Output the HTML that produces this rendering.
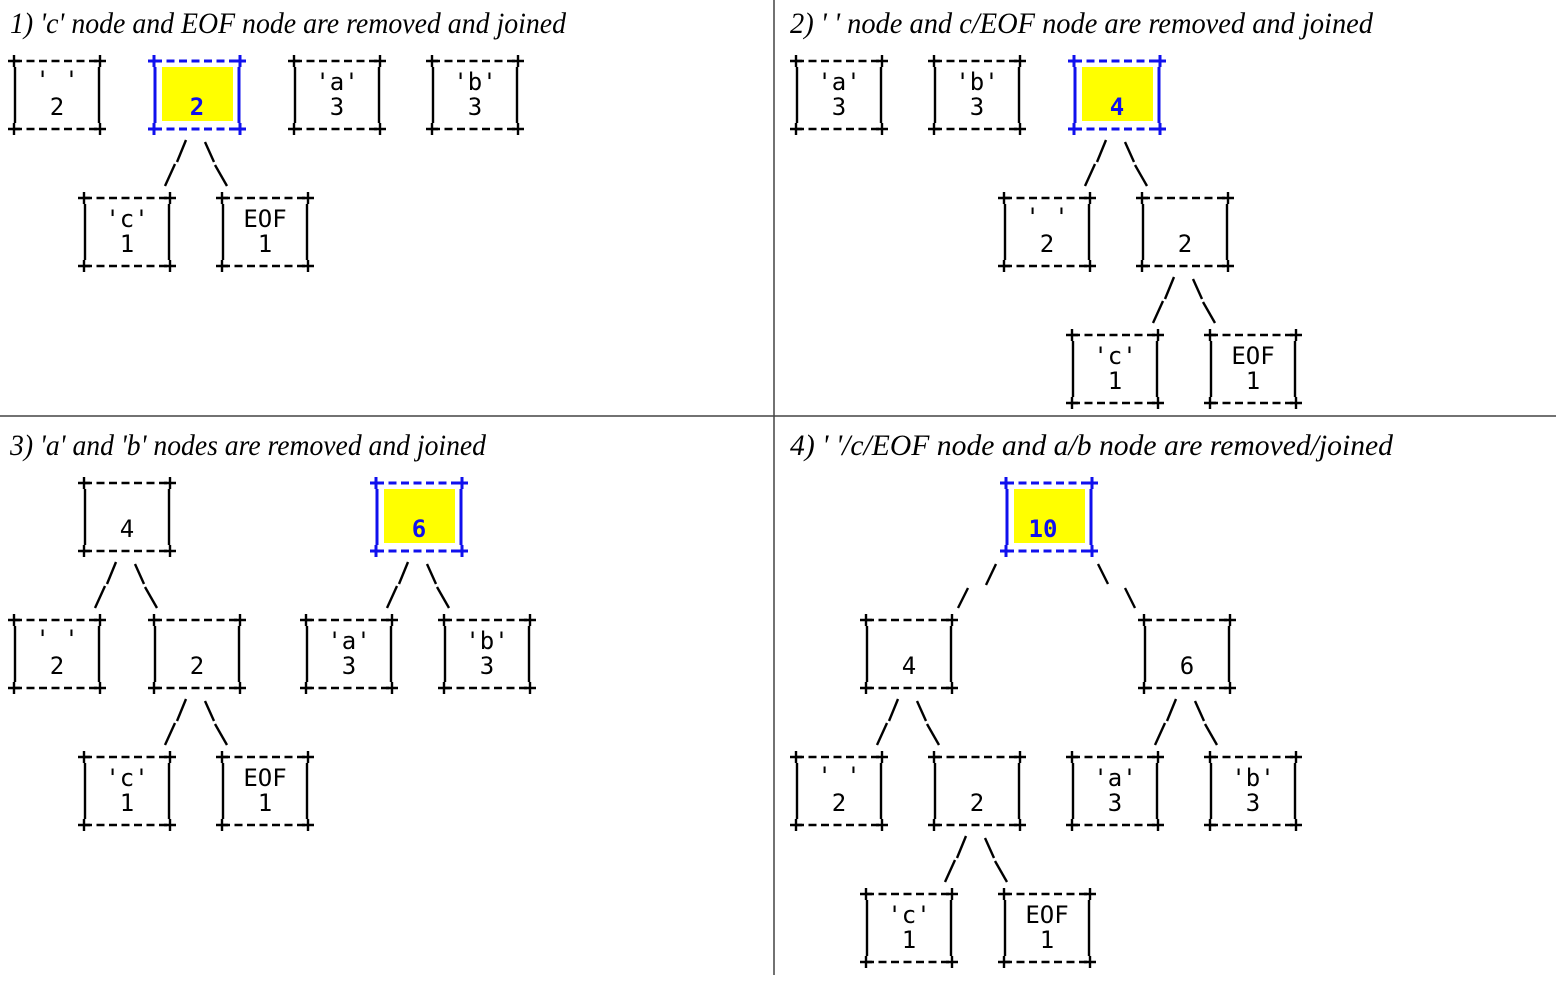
<!DOCTYPE html>
<html><head><meta charset="utf-8"><style>
html,body{margin:0;padding:0;background:#fff;}
svg{display:block}
.t{font-family:"Liberation Serif",serif;font-style:italic;font-size:30px;fill:#000}
.m{font-family:"DejaVu Sans Mono","Liberation Mono",monospace;font-size:24px;fill:#000;text-anchor:middle}
.h{font-family:"DejaVu Sans Mono","Liberation Mono",monospace;font-size:24px;font-weight:bold;fill:#1010ee;text-anchor:middle}
</style></head><body>
<svg width="1564" height="992" viewBox="0 0 1564 992" xmlns="http://www.w3.org/2000/svg">
<defs>
<g id="box" stroke="#000" stroke-width="2.4" fill="none">
 <line x1="4" y1="2" x2="90" y2="2" stroke-dasharray="8,4.5"/>
 <line x1="4" y1="70" x2="90" y2="70" stroke-dasharray="8,4.5"/>
 <line x1="5" y1="8" x2="5" y2="64"/>
 <line x1="89" y1="8" x2="89" y2="64"/>
 <path d="M-2 2H10M4 -4V8M84 2H96M90 -4V8M-2 70H10M4 64V76M84 70H96M90 64V76"/>
</g>
<g id="hbox">
 <rect x="12" y="8" width="71" height="54" fill="#ffff00"/>
 <g stroke="#1010ee" stroke-width="3" fill="none">
 <line x1="4" y1="2" x2="90" y2="2" stroke-dasharray="8,4.5"/>
 <line x1="4" y1="70" x2="90" y2="70" stroke-dasharray="8,4.5"/>
 <line x1="5" y1="8" x2="5" y2="64"/>
 <line x1="89" y1="8" x2="89" y2="64"/>
 <path d="M-2 2H10M4 -4V8M84 2H96M90 -4V8M-2 70H10M4 64V76M84 70H96M90 64V76"/>
 </g>
</g>
<g id="br" stroke="#000" stroke-width="2.4">
 <line x1="36" y1="81" x2="27" y2="103"/>
 <line x1="25" y1="105" x2="15" y2="127"/>
 <line x1="55" y1="83" x2="64" y2="103"/>
 <line x1="65" y1="106" x2="77" y2="127"/>
</g>
<g id="wbr" stroke="#000" stroke-width="2.4">
 <line x1="-6" y1="83" x2="-16" y2="104"/>
 <line x1="-34" y1="107" x2="-44" y2="127"/>
 <line x1="96" y1="83" x2="106" y2="103"/>
 <line x1="123" y1="107" x2="133" y2="127"/>
</g>
</defs>

<line x1="774" y1="0" x2="774" y2="975" stroke="#444" stroke-width="1.5"/>
<line x1="0" y1="416" x2="1556" y2="416" stroke="#444" stroke-width="1.5"/>

<text class="t" x="10" y="33" textLength="556" lengthAdjust="spacingAndGlyphs">1) 'c' node and EOF node are removed and joined</text>
<text class="t" x="790" y="33" textLength="583" lengthAdjust="spacingAndGlyphs">2) ' ' node and c/EOF node are removed and joined</text>
<text class="t" x="10" y="455" textLength="476" lengthAdjust="spacingAndGlyphs">3) 'a' and 'b' nodes are removed and joined</text>
<text class="t" x="790" y="455" textLength="603" lengthAdjust="spacingAndGlyphs">4) ' '/c/EOF node and a/b node are removed/joined</text>

<!-- Panel 1 -->
<g transform="translate(10,59)"><use href="#box"/><text class="m" x="47" y="29">' '</text><text class="m" x="47" y="56">2</text></g>
<g transform="translate(150,59)"><use href="#hbox"/><text class="h" x="47" y="56">2</text><use href="#br"/></g>
<g transform="translate(290,59)"><use href="#box"/><text class="m" x="47" y="31">'a'</text><text class="m" x="47" y="56">3</text></g>
<g transform="translate(428,59)"><use href="#box"/><text class="m" x="47" y="31">'b'</text><text class="m" x="47" y="56">3</text></g>
<g transform="translate(80,196)"><use href="#box"/><text class="m" x="47" y="31">'c'</text><text class="m" x="47" y="56">1</text></g>
<g transform="translate(218,196)"><use href="#box"/><text class="m" x="47" y="31">EOF</text><text class="m" x="47" y="56">1</text></g>

<!-- Panel 2 -->
<g transform="translate(792,59)"><use href="#box"/><text class="m" x="47" y="31">'a'</text><text class="m" x="47" y="56">3</text></g>
<g transform="translate(930,59)"><use href="#box"/><text class="m" x="47" y="31">'b'</text><text class="m" x="47" y="56">3</text></g>
<g transform="translate(1070,59)"><use href="#hbox"/><text class="h" x="47" y="56">4</text><use href="#br"/></g>
<g transform="translate(1000,196)"><use href="#box"/><text class="m" x="47" y="29">' '</text><text class="m" x="47" y="56">2</text></g>
<g transform="translate(1138,196)"><use href="#box"/><text class="m" x="47" y="56">2</text><use href="#br"/></g>
<g transform="translate(1068,333)"><use href="#box"/><text class="m" x="47" y="31">'c'</text><text class="m" x="47" y="56">1</text></g>
<g transform="translate(1206,333)"><use href="#box"/><text class="m" x="47" y="31">EOF</text><text class="m" x="47" y="56">1</text></g>

<!-- Panel 3 -->
<g transform="translate(80,481)"><use href="#box"/><text class="m" x="47" y="56">4</text><use href="#br"/></g>
<g transform="translate(372,481)"><use href="#hbox"/><text class="h" x="47" y="56">6</text><use href="#br"/></g>
<g transform="translate(10,618)"><use href="#box"/><text class="m" x="47" y="29">' '</text><text class="m" x="47" y="56">2</text></g>
<g transform="translate(150,618)"><use href="#box"/><text class="m" x="47" y="56">2</text><use href="#br"/></g>
<g transform="translate(302,618)"><use href="#box"/><text class="m" x="47" y="31">'a'</text><text class="m" x="47" y="56">3</text></g>
<g transform="translate(440,618)"><use href="#box"/><text class="m" x="47" y="31">'b'</text><text class="m" x="47" y="56">3</text></g>
<g transform="translate(80,755)"><use href="#box"/><text class="m" x="47" y="31">'c'</text><text class="m" x="47" y="56">1</text></g>
<g transform="translate(218,755)"><use href="#box"/><text class="m" x="47" y="31">EOF</text><text class="m" x="47" y="56">1</text></g>

<!-- Panel 4 -->
<g transform="translate(1002,481)"><use href="#hbox"/><text class="h" x="41" y="56">10</text><use href="#wbr"/></g>
<g transform="translate(862,618)"><use href="#box"/><text class="m" x="47" y="56">4</text><use href="#br"/></g>
<g transform="translate(1140,618)"><use href="#box"/><text class="m" x="47" y="56">6</text><use href="#br"/></g>
<g transform="translate(792,755)"><use href="#box"/><text class="m" x="47" y="29">' '</text><text class="m" x="47" y="56">2</text></g>
<g transform="translate(930,755)"><use href="#box"/><text class="m" x="47" y="56">2</text><use href="#br"/></g>
<g transform="translate(1068,755)"><use href="#box"/><text class="m" x="47" y="31">'a'</text><text class="m" x="47" y="56">3</text></g>
<g transform="translate(1206,755)"><use href="#box"/><text class="m" x="47" y="31">'b'</text><text class="m" x="47" y="56">3</text></g>
<g transform="translate(862,892)"><use href="#box"/><text class="m" x="47" y="31">'c'</text><text class="m" x="47" y="56">1</text></g>
<g transform="translate(1000,892)"><use href="#box"/><text class="m" x="47" y="31">EOF</text><text class="m" x="47" y="56">1</text></g>
</svg>
</body></html>
